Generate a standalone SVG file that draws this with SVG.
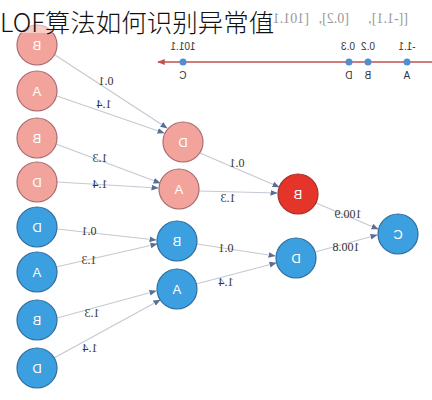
<svg xmlns="http://www.w3.org/2000/svg" width="432" height="400" viewBox="0 0 432 400">
<defs>
<marker id="ah" viewBox="0 0 10 10" refX="9" refY="5" markerWidth="6" markerHeight="6" orient="auto"><path d="M0,1 L10,5 L0,9 Z" fill="#5a6f96"/></marker>
<marker id="axh" viewBox="0 0 10 10" refX="9" refY="5" markerWidth="5" markerHeight="5" orient="auto"><path d="M0,1 L10,5 L0,9 Z" fill="#c0504d"/></marker>
</defs>
<style>
.pk{fill:#f2a49c;stroke:#a86c72;stroke-width:1.2}
.bl{fill:#3c9fe0;stroke:#2f6d9e;stroke-width:1.2}
.rd{fill:#e5352a;stroke:#a0302a;stroke-width:1.2}
.nl{font-family:"Liberation Sans",Arial,sans-serif;font-size:13px;fill:#ffffff;text-anchor:middle}
.el{font-family:"Liberation Serif","Times New Roman",serif;font-size:12px;fill:#333;text-anchor:middle}
.ax{font-family:"Liberation Sans",Arial,sans-serif;font-size:10px;fill:#333;text-anchor:middle}
.e{stroke:#c4c9d2;stroke-width:1.2;fill:none;marker-end:url(#ah)}
.top{font-family:"Liberation Serif","Times New Roman",serif;font-size:14px;fill:#999}
</style>
<rect width="432" height="400" fill="#ffffff"/>
<g id="axis">
<line x1="432" y1="62" x2="158" y2="62" stroke="#c0504d" stroke-width="1.5" marker-end="url(#axh)"/>
<circle cx="183" cy="62" r="3.5" fill="#4f8fcf"/>
<circle cx="349" cy="62" r="3.5" fill="#4f8fcf"/>
<circle cx="368" cy="62" r="3.5" fill="#4f8fcf"/>
<circle cx="407" cy="62" r="3.5" fill="#4f8fcf"/>
<text class="ax" transform="translate(183,50) scale(-1,1)">101.1</text>
<text class="ax" transform="translate(348,50) scale(-1,1)">0.3</text>
<text class="ax" transform="translate(368,50) scale(-1,1)">0.2</text>
<text class="ax" transform="translate(407,50) scale(-1,1)">-1.1</text>
<text class="ax" transform="translate(183,79) scale(-1,1)">C</text>
<text class="ax" transform="translate(349,79) scale(-1,1)">D</text>
<text class="ax" transform="translate(368,79) scale(-1,1)">B</text>
<text class="ax" transform="translate(407,79) scale(-1,1)">A</text>
</g>
<g id="connectors">
<line class="e" x1="55" y1="55" x2="167" y2="128"/>
<line class="e" x1="57" y1="96" x2="164" y2="133"/>
<line class="e" x1="56" y1="144" x2="160" y2="183"/>
<line class="e" x1="57" y1="182" x2="158" y2="188"/>
<line class="e" x1="57" y1="229" x2="156" y2="240"/>
<line class="e" x1="56" y1="267" x2="157" y2="244"/>
<line class="e" x1="57" y1="318" x2="156" y2="291"/>
<line class="e" x1="54" y1="358" x2="160" y2="300"/>
<line class="e" x1="200" y1="153" x2="279" y2="187"/>
<line class="e" x1="199" y1="191" x2="277" y2="193"/>
<line class="e" x1="197" y1="244" x2="275" y2="256"/>
<line class="e" x1="196" y1="284" x2="276" y2="263"/>
<line class="e" x1="316" y1="203" x2="378" y2="229"/>
<line class="e" x1="315" y1="252" x2="377" y2="235"/>
<text class="el" transform="translate(106,85) scale(-1,1)">0.1</text>
<text class="el" transform="translate(104,108) scale(-1,1)">1.4</text>
<text class="el" transform="translate(100,162) scale(-1,1)">1.3</text>
<text class="el" transform="translate(100,188) scale(-1,1)">1.4</text>
<text class="el" transform="translate(89,235) scale(-1,1)">0.1</text>
<text class="el" transform="translate(89,264) scale(-1,1)">1.3</text>
<text class="el" transform="translate(92,317) scale(-1,1)">1.3</text>
<text class="el" transform="translate(90,352) scale(-1,1)">1.4</text>
<text class="el" transform="translate(237,167) scale(-1,1)">0.1</text>
<text class="el" transform="translate(228,202) scale(-1,1)">1.3</text>
<text class="el" transform="translate(226,252) scale(-1,1)">0.1</text>
<text class="el" transform="translate(226,286) scale(-1,1)">1.4</text>
<text class="el" transform="translate(348,218) scale(-1,1)">100.9</text>
<text class="el" transform="translate(346,251) scale(-1,1)">100.8</text>
</g>
<g id="n1"><circle class="pk" cx="37" cy="45" r="20"/><text class="nl" transform="translate(37,50) scale(-1,1)">B</text></g>
<g id="n2"><circle class="pk" cx="37" cy="91" r="20"/><text class="nl" transform="translate(37,96) scale(-1,1)">A</text></g>
<g id="n3"><circle class="pk" cx="37" cy="138" r="20"/><text class="nl" transform="translate(37,143) scale(-1,1)">B</text></g>
<g id="n4"><circle class="pk" cx="37" cy="182" r="20"/><text class="nl" transform="translate(37,187) scale(-1,1)">D</text></g>
<g id="n5"><circle class="bl" cx="37" cy="227" r="20"/><text class="nl" transform="translate(37,232) scale(-1,1)">D</text></g>
<g id="n6"><circle class="bl" cx="37" cy="272" r="20"/><text class="nl" transform="translate(37,277) scale(-1,1)">A</text></g>
<g id="n7"><circle class="bl" cx="37" cy="320" r="20"/><text class="nl" transform="translate(37,325) scale(-1,1)">B</text></g>
<g id="n8"><circle class="bl" cx="37" cy="368" r="20"/><text class="nl" transform="translate(37,373) scale(-1,1)">D</text></g>
<g id="m1"><circle class="pk" cx="183" cy="142" r="20"/><text class="nl" transform="translate(183,147) scale(-1,1)">D</text></g>
<g id="m2"><circle class="pk" cx="179" cy="189" r="20"/><text class="nl" transform="translate(179,194) scale(-1,1)">A</text></g>
<g id="m3"><circle class="bl" cx="177" cy="241" r="20"/><text class="nl" transform="translate(177,246) scale(-1,1)">B</text></g>
<g id="m4"><circle class="bl" cx="177" cy="289" r="20"/><text class="nl" transform="translate(177,294) scale(-1,1)">A</text></g>
<g id="t1"><circle class="rd" cx="298" cy="194" r="20"/><text class="nl" transform="translate(298,199) scale(-1,1)">B</text></g>
<g id="t2"><circle class="bl" cx="296" cy="258" r="20"/><text class="nl" transform="translate(296,263) scale(-1,1)">D</text></g>
<g id="c"><circle class="bl" cx="398" cy="234" r="20"/><text class="nl" transform="translate(398,239) scale(-1,1)">C</text></g>
<rect x="0" y="0" width="432" height="33" fill="#ffffff" opacity="0.45"/>
<text class="top" transform="translate(408,23) scale(-1,1)">[[-1.1],</text>
<text class="top" transform="translate(349,23) scale(-1,1)">[0.2],</text>
<text class="top" transform="translate(309,23) scale(-1,1)">[101.1],</text>
<text x="0" y="32" font-family="'Noto Sans CJK SC','Noto Sans',sans-serif" font-size="25.5" font-weight="300" fill="#111">LOF算法如何识别异常值</text>
</svg>
